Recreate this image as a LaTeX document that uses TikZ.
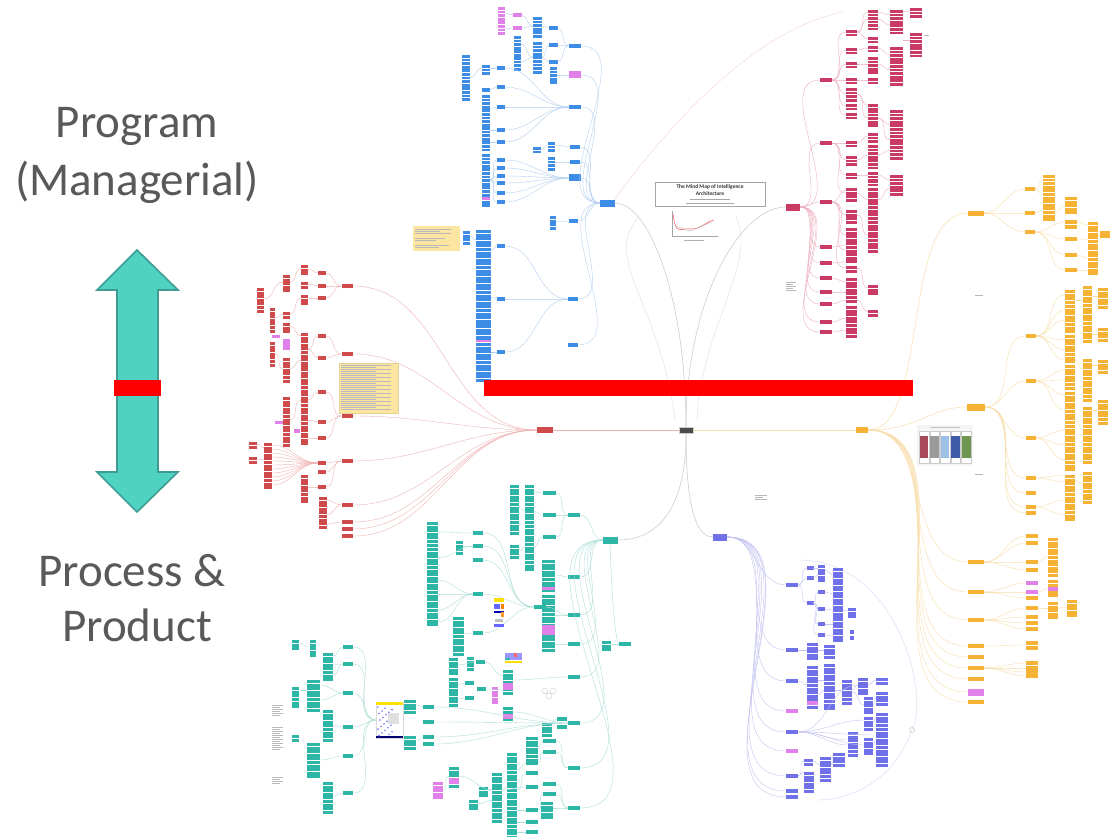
\documentclass[tikz,border=0pt]{standalone}
\usepackage{fontspec}
\setmainfont{Carlito}
\definecolor{bl}{HTML}{3D8DE6}
\definecolor{blL}{HTML}{B4CFF0}
\definecolor{cr}{HTML}{C93A64}
\definecolor{crL}{HTML}{EDB0C0}
\definecolor{rd}{HTML}{CF4B4B}
\definecolor{rdL}{HTML}{F0B4B4}
\definecolor{tl}{HTML}{2DB5A5}
\definecolor{tlL}{HTML}{AEDFD8}
\definecolor{pu}{HTML}{7070E8}
\definecolor{puL}{HTML}{C4C4F2}
\definecolor{og}{HTML}{F5B235}
\definecolor{ogL}{HTML}{F9DDA8}
\definecolor{pk}{HTML}{E080E8}
\definecolor{txt}{HTML}{595959}
\definecolor{arrF}{HTML}{50D2C3}
\definecolor{arrD}{HTML}{3E9C92}
\definecolor{note}{HTML}{FBE5A0}
\definecolor{panA}{HTML}{A84A5A}
\definecolor{panB}{HTML}{9A9A9A}
\definecolor{panC}{HTML}{9CC0E6}
\definecolor{panD}{HTML}{3E5AA8}
\definecolor{panE}{HTML}{6E9650}
% stack of small boxes: x, y top, y bottom, width, colour
\newcommand\stk[5]{%
  \pgfmathtruncatemacro\nn{max(0,round((#3-#2)/3.6))}%
  \foreach \k in {0,...,\nn}{\fill[#5] (#1,{#2+3.6*\k}) rectangle ++(#4,2.9);}}
% single box centred on x,y with width
\newcommand\bx[4]{\fill[#4] ({#1-#3/2},{#2-2}) rectangle ++(#3,4);}
% thin curved link, left end to right end
\newcommand\lk[5]{\draw[#5,line width=0.4pt] (#1,#2) to[out=0,in=180] (#3,#4);}
% a few lines of tiny grey text
\newcommand\tx[4]{\foreach \k in {1,...,#4}{\fill[gray!55] (#1,{#2+2*\k}) rectangle ++({#3*(0.7+0.3*mod(\k,2))},0.7);}}
\tikzset{
  hub/.style={rectangle,inner sep=0pt,minimum height=6pt},
  big/.style={text=txt,font=\fontsize{47}{50}\selectfont,anchor=base}
}
\begin{document}
\begin{tikzpicture}[x=1pt,y=-1pt]
\useasboundingbox (0,0) rectangle (1110,837);
\fill[white] (0,0) rectangle (1110,837);

% ---------- side labels and the two-way arrow ----------
\node[big] (prog) at (137,138) {Program};
\node[big] (mgr) at (137,195) {(Managerial)};
\node[big] (proc) at (132,586) {Process \&};
\node[big] (prod) at (137,641) {Product};
\fill[arrF,draw=arrD,line width=1.6pt,line join=miter]
  (137,250) -- (178,290) -- (158,290) -- (158,472) -- (178,472) -- (137,512)
  -- (97,472) -- (117,472) -- (117,290) -- (97,290) -- cycle;
\fill[red] (114,380) rectangle (161,396);

% ---------- central hubs ----------
\node[hub,fill=gray!60!black,minimum width=14pt,draw=gray!40] (cen) at (686,430) {};
\node[hub,fill=bl,minimum width=15pt,minimum height=7pt] (bh) at (607,203) {};
\node[hub,fill=cr,minimum width=14pt,minimum height=7pt] (ch) at (793,207) {};
\node[hub,fill=rd,minimum width=16pt] (rh) at (545,430) {};
\node[hub,fill=tl,minimum width=15pt,minimum height=7pt] (th) at (610,540) {};
\node[hub,fill=pu,minimum width=14pt,minimum height=7pt] (ph) at (720,537) {};
\node[hub,fill=og,minimum width=12pt] (oh) at (862,430) {};
\node[hub,fill=og,minimum width=16pt,minimum height=5pt] (oa) at (976,213) {};
\node[hub,fill=og,minimum width=18pt,minimum height=7pt] (ob) at (976,407) {};

\draw[gray!45,line width=0.5pt] (cen.north) .. controls (686,300) and (650,203) .. (bh.east);
\draw[gray!45,line width=0.5pt] (cen.north) .. controls (686,300) and (740,207) .. (ch.west);
\draw[rdL,line width=0.6pt] (cen.west) -- (rh.east);
\draw[ogL,line width=0.6pt] (cen.east) -- (oh.west);
\draw[gray!45,line width=0.5pt] (cen.south) .. controls (686,520) and (650,540) .. (th.east);
\draw[gray!45,line width=0.5pt] (cen.south) .. controls (686,520) and (700,537) .. (ph.west);
\draw[ogL,line width=0.5pt] (oh.east) .. controls (930,430) and (900,213) .. (oa.west);
\draw[ogL,line width=0.5pt] (oh.east) .. controls (920,430) and (930,407) .. (ob.west);
% faint long arcs
\draw[crL!60,line width=0.4pt] (bh.north east) .. controls (680,110) and (760,30) .. (842,12);
\draw[gray!25,line width=0.4pt] (640,215) .. controls (600,260) and (660,300) .. (675,420);
\draw[gray!25,line width=0.4pt] (735,215) .. controls (760,260) and (700,330) .. (697,420);
\draw[puL!70,line width=0.4pt] (798,560) .. controls (900,560) and (930,700) .. (912,730) .. controls (890,790) and (840,800) .. (818,800);

% ---------- title block ----------
\draw[gray!70,fill=white,line width=0.5pt] (655,182) rectangle (765,206);
\node[font=\fontsize{5.5}{6}\selectfont\bfseries,text=black!80,inner sep=0] (ttl) at (710,187) {The Mind Map of Intelligence};
\node[font=\fontsize{5.5}{6}\selectfont\bfseries,text=black!80,inner sep=0] (ttl2) at (710,193.5) {Architecture};
\fill[gray!70] (690,198.5) rectangle (730,199.3);
\fill[gray!70] (686,202.5) rectangle (734,203.3);
\draw[gray!70,line width=0.4pt] (672,211) -- (672,236) -- (718,236);
\draw[red!70,line width=0.5pt] (673,214) .. controls (676,236) and (680,228) .. (690,229) .. controls (700,230) and (705,222) .. (714,220);
\draw[gray!60,line width=0.4pt] (675,226) -- (690,231) -- (712,222);
\fill[gray!60] (684,240) rectangle (704,240.7);

% ---------- blue branch ----------
\stk{498}{7}{20}{7}{pk} \stk{498}{25}{33}{7}{pk}
\bx{517}{15}{9}{pk} \bx{517}{28}{9}{pk}
\stk{533}{17}{35}{9}{bl} \stk{533}{42}{72}{9}{bl}
\stk{514}{36}{53}{7}{bl} \stk{514}{57}{68}{7}{bl}
\bx{553}{28}{9}{bl} \bx{553}{45}{9}{bl} \bx{553}{62}{9}{bl}
\stk{550}{67}{83}{7}{bl}
\bx{575}{46}{12}{bl} \fill[pk] (569,71) rectangle (581,78);
\stk{462}{55}{100}{8}{bl}
\stk{482}{65}{72}{8}{bl} \bx{486}{90}{8}{bl}
\stk{482}{95}{123}{8}{bl} \stk{482}{127}{148}{8}{bl} \stk{482}{154}{205}{8}{bl}
\fill[pk] (482,197) rectangle (490,200);
\foreach \y in {68,87,107,130,142,160,168,176,183,193,202} {\bx{501}{\y}{8}{bl}}
\bx{575}{107}{12}{bl} \bx{575}{147}{10}{bl} \bx{575}{162}{10}{bl}
\fill[bl] (569,174) rectangle (581,181);
\stk{548}{142}{150}{7}{bl} \stk{548}{157}{168}{7}{bl} \stk{533}{147}{152}{8}{bl}
\stk{550}{216}{228}{6}{bl} \bx{573}{221}{9}{bl}
\stk{476}{230}{270}{15}{bl} \stk{476}{273}{322}{15}{bl} \stk{476}{325}{380}{15}{bl}
\fill[pk] (476,340) rectangle (491,342);
\stk{463}{231}{242}{7}{bl}
\bx{501}{246}{8}{bl} \bx{501}{299}{8}{bl} \bx{501}{352}{8}{bl}
\bx{573}{299}{10}{bl} \bx{573}{345}{10}{bl}
\foreach \a/\b/\c/\d in {505/13/513/15,505/29/513/28,521/15/533/26,521/28/533/26,521/44/533/57,521/62/533/57,
  542/26/549/28,542/57/549/45,542/57/549/62,557/28/569/46,557/45/569/46,557/62/569/46,557/75/569/75,
  470/78/482/68,490/68/497/68,490/90/497/87,490/109/497/107,490/130/497/130,490/142/497/142,
  505/68/569/107,505/87/569/107,505/107/569/107,505/130/569/107,505/142/569/107,
  490/180/497/160,490/180/497/168,490/180/497/176,490/180/497/183,490/180/497/193,490/180/497/202,
  505/160/569/178,505/168/569/178,505/176/569/178,505/183/569/178,505/193/569/178,505/202/569/178,
  541/150/548/145,555/145/570/147,555/162/570/162,
  491/250/497/246,491/297/497/299,491/352/497/352,505/246/568/299,505/299/568/299,505/352/568/299,
  556/222/568/221,470/236/476/240,
  581/46/600/203,581/75/600/203,581/107/600/203,580/147/600/203,580/162/600/203,581/178/600/203,
  578/221/600/203,578/299/600/203,578/345/600/203}
  {\lk{\a}{\b}{\c}{\d}{blL}}
% note beside the blue branch
\fill[note] (413,226) rectangle (460,251);
\tx{415}{227}{36}{3} \tx{415}{236}{30}{2} \tx{415}{243}{34}{2}

% ---------- crimson branch ----------
\foreach \y in {80,143,202,247,263,278,292,304,322,332} {\bx{826}{\y}{12}{cr} \lk{800}{207}{820}{\y}{crL}}
\foreach \a/\b in {30/34,48/52,62/66,78/82,88/100,104/108,113/117,141/145,156/163,173/177,188/198,210/220,228/262,266/270,278/300,306/334}
  {\stk{846}{\a}{\b}{11}{cr}}
\foreach \a/\b in {10/14,17/21,24/28,37/41,46/50,57/72,78/82,104/108,110/125,133/140,145/168,172/178,180/185,188/215,221/250,285/292,310/314}
  {\stk{868}{\a}{\b}{10}{cr}}
\foreach \a/\b in {10/33,47/83,110/157,175/193} {\stk{890}{\a}{\b}{13}{cr}}
\stk{910}{8}{15}{12}{cr} \stk{910}{33}{53}{12}{cr}
\foreach \a/\b/\c/\d in {832/80/846/32,832/80/846/50,832/80/846/64,832/80/846/80,832/80/846/94,832/80/846/106,832/80/846/115,
  832/143/846/143,832/143/846/160,832/143/846/175,832/143/846/193,
  832/202/846/190,832/202/846/215,832/202/846/235,832/202/846/250,832/202/846/268,
  832/247/846/245,832/263/846/262,832/278/846/282,832/292/846/292,832/304/846/300,832/322/846/318,832/332/846/330,
  857/32/868/12,857/32/868/19,857/32/868/39,857/50/868/48,857/64/868/64,857/80/868/80,857/94/868/106,857/94/868/118,
  857/143/868/136,857/160/868/155,857/175/868/175,857/193/868/200,857/215/868/235,857/268/868/288,857/300/868/312,
  878/12/890/15,878/19/890/25,878/48/890/55,878/64/890/70,878/118/890/125,878/118/890/140,878/155/890/150,
  878/175/890/180,878/200/890/188,903/12/910/11,903/40/910/40}
  {\lk{\a}{\b}{\c}{\d}{crL}}
\tx{924}{33}{5}{1} \tx{786}{280}{10}{5}

% ---------- red branch ----------
\foreach \y in {286,354,416,461,505,522,529,536} {\bx{347}{\y}{11}{rd} \lk{353}{\y}{537}{430}{rdL}}
\foreach \y in {273,286,298,336,358,392,422,438,463,472,487} {\bx{322}{\y}{8}{rd}}
\foreach \a/\b in {265/273,282/286,295/302,333/365,368/432,435/442,475/500} {\stk{301}{\a}{\b}{7}{rd}}
\foreach \a/\b in {275/290,312/315,323/330,358/380,397/443} {\stk{283}{\a}{\b}{7}{rd}}
\stk{257}{288}{310}{7}{rd} \stk{270}{308}{328}{5}{rd} \stk{270}{342}{365}{5}{rd}
\stk{249}{442}{447}{8}{rd} \stk{249}{457}{461}{8}{rd} \stk{264}{443}{485}{8}{rd}
\stk{319}{497}{527}{8}{rd}
\fill[pk] (272,335) rectangle (280,338); \fill[pk] (283,339) rectangle (290,350);
\fill[pk] (275,421) rectangle (283,424); \fill[pk] (294,429) rectangle (300,433);
\foreach \a/\b/\c/\d in {326/273/341/286,326/286/341/286,326/298/341/286,326/336/341/354,326/358/341/354,326/392/341/416,
  326/422/341/416,326/438/341/416,326/463/341/461,326/472/341/461,326/487/341/461,327/500/341/505,327/515/341/505,327/524/341/522,
  308/269/318/273,308/284/318/286,308/298/318/298,308/349/318/336,308/349/318/358,308/400/318/392,308/420/318/422,
  308/438/318/438,308/487/318/487,290/282/301/269,290/314/301/298,290/326/301/336,290/369/301/360,290/420/301/400,
  264/299/283/282,275/318/283/314,275/354/283/369,257/444/264/448,257/459/264/460}
  {\lk{\a}{\b}{\c}{\d}{rdL}}
\foreach \y in {445,449,...,485} {\lk{272}{\y}{318}{463}{rdL}}
% note in the red branch
\fill[note,draw=note!80!gray,line width=0.3pt] (339,363) rectangle (398,413);
\tx{341}{363}{50}{23}

% ---------- teal branch ----------
\foreach \y in {515,577,615,644,677,723,768,808} {\bx{574}{\y}{12}{tl} \lk{580}{\y}{603}{540}{tlL}}
\bx{625}{644}{12}{tl} \stk{602}{641}{648}{9}{tl}
\draw[tlL,line width=0.4pt] (th.south) .. controls (612,600) and (615,640) .. (619,644);
\lk{611}{644}{619}{644}{tlL}
\foreach \y in {493,515,537,741,752,784,794} {\bx{549}{\y}{13}{tl}}
\bx{540}{607}{12}{tl}
\stk{542}{560}{590}{13}{tl} \stk{542}{595}{635}{13}{tl} \stk{542}{638}{650}{13}{tl}
\fill[pk] (542,587) rectangle (555,590); \fill[pk] (542,625) rectangle (555,635);
\stk{525}{485}{500}{9}{tl} \stk{525}{503}{520}{9}{tl} \stk{525}{525}{570}{9}{tl}
\stk{510}{485}{532}{9}{tl} \stk{510}{545}{557}{9}{tl}
\stk{427}{522}{543}{11}{tl} \stk{427}{548}{568}{11}{tl} \stk{427}{573}{625}{11}{tl}
\foreach \y in {533,546,560,594,633} {\bx{478}{\y}{10}{tl}}
\stk{453}{617}{652}{11}{tl} \stk{456}{541}{552}{7}{tl}
\stk{449}{658}{673}{9}{tl} \stk{449}{678}{692}{9}{tl} \stk{449}{693}{705}{9}{tl}
\stk{467}{657}{667}{7}{tl}
\foreach \x/\y in {480/662,469/683,481/689,469/698} {\bx{\x}{\y}{9}{tl}}
\stk{492}{687}{700}{6}{pk}
\stk{503}{670}{690}{10}{tl} \fill[pk] (503,683) rectangle (513,690);
\stk{503}{707}{719}{10}{tl} \fill[pk] (503,714) rectangle (513,719);
\foreach \y in {707,722,737,744} {\bx{428}{\y}{11}{tl}}
\stk{404}{700}{710}{12}{tl} \stk{404}{736}{747}{12}{tl}
\foreach \y in {647,664,693,727,756,793} {\bx{348}{\y}{10}{tl} \lk{353}{\y}{376}{720}{tlL}}
\stk{323}{653}{677}{10}{tl} \stk{323}{710}{740}{10}{tl} \stk{323}{782}{810}{10}{tl}
\stk{307}{680}{707}{13}{tl} \stk{307}{743}{776}{13}{tl}
\stk{292}{640}{646}{7}{tl} \stk{292}{687}{693}{7}{tl} \stk{292}{698}{706}{7}{tl} \stk{292}{735}{740}{7}{tl}
\stk{310}{640}{653}{6}{tl}
\stk{433}{782}{798}{10}{pk} \stk{449}{767}{784}{10}{tl} \fill[pk] (449,778) rectangle (459,784);
\stk{469}{800}{808}{9}{tl} \stk{479}{787}{795}{9}{tl}
\stk{492}{773}{820}{10}{tl} \stk{507}{753}{835}{10}{tl}
\foreach \y in {763,773,787,810,822,832} {\bx{532}{\y}{12}{tl}}
\stk{526}{737}{757}{12}{tl} \stk{541}{802}{815}{12}{tl}
\bx{562}{719}{10}{tl} \bx{562}{727}{10}{tl} \stk{542}{723}{732}{10}{tl}
\foreach \a/\b/\c/\d in {556/493/568/515,556/515/568/515,556/537/568/515,534/492/542/493,534/511/542/515,534/547/542/537,
  519/508/525/511,519/551/525/547,556/575/568/577,556/615/568/615,556/644/568/644,546/607/568/615,
  438/532/473/533,438/558/473/546,438/580/473/594,438/594/473/594,438/610/473/594,438/622/473/594,464/634/473/633,463/546/473/546,
  483/533/534/607,483/546/534/607,483/560/534/607,483/594/534/607,483/633/534/607,
  458/665/476/662,458/685/465/683,458/699/465/698,485/662/503/676,486/689/503/690,513/680/568/677,513/712/568/723,
  434/707/568/723,434/722/568/723,434/737/568/723,434/744/568/723,417/705/423/707,417/741/423/737,
  333/656/343/647,333/665/343/664,333/675/343/664,321/685/343/693,321/700/343/693,333/725/343/727,321/760/343/756,333/796/343/793,
  300/643/307/647,300/690/307/690,443/790/449/776,459/776/492/790,478/804/492/800,488/791/492/790,502/790/526/787,
  517/770/526/763,517/790/526/773,517/810/526/810,517/822/526/822,517/832/526/832,538/763/543/752,538/787/543/784,
  538/810/543/794,538/747/543/741,556/741/568/768,556/752/568/768,556/784/568/808,556/794/568/808,553/808/568/808,
  547/727/557/719,567/723/568/723}
  {\lk{\a}{\b}{\c}{\d}{tlL}}
\tx{272}{703}{11}{6} \tx{272}{725}{11}{12} \tx{272}{775}{11}{4}
% small pictures inside the teal branch
\fill[white,draw=gray!30,line width=0.3pt] (376,703) rectangle (403,738);
\fill[yellow!85!orange] (376,702) rectangle (403,705);
\fill[blue!45!black] (376,736) rectangle (403,738);
\foreach \i in {0,...,22} {\fill[blue!55] ({378+mod(\i*7,17)},{707+\i*1.3}) circle (0.9);}
\fill[gray!25] (388,713) rectangle (399,724);
\fill[yellow!80!orange] (494,598) rectangle (504,602);
\fill[blue!60] (494,604) rectangle (500,609); \fill[orange] (501,604) rectangle (504,609);
\fill[blue!70!black] (494,611) rectangle (504,613); \fill[orange!80] (501,612) rectangle (504,617);
\fill[gray!50] (495,619) rectangle (503,622); \fill[blue!60] (494,624) rectangle (504,627);
\fill[blue!40] (505,653) rectangle (522,660); \fill[yellow!80!orange] (505,661) rectangle (522,663);
\fill[tl] (505,658) rectangle (510,660); \fill[red!60] (514,653) rectangle (517,657);
\draw[gray!40,line width=0.4pt] (545,691) circle (3) (553,691) circle (3) (549,696) circle (3);

% ---------- purple branch ----------
\foreach \y in {585,650,681,732,776,791,797} {\bx{792}{\y}{12}{pu} \lk{727}{537}{786}{\y}{puL}}
\foreach \y in {711,751} {\bx{792}{\y}{12}{pk} \lk{727}{537}{786}{\y}{puL}}
\foreach \y in {568,578,603} {\bx{810}{\y}{7}{pu}}
\stk{807}{643}{657}{11}{pu} \stk{807}{666}{705}{11}{pu} \fill[pk] (807,701) rectangle (818,705);
\stk{804}{759}{763}{9}{pu} \stk{804}{772}{790}{10}{pu}
\stk{818}{565}{580}{7}{pu}
\foreach \y in {592,609,624,635} {\bx{821}{\y}{7}{pu}}
\stk{824}{645}{657}{11}{pu} \stk{824}{664}{709}{11}{pu} \stk{820}{757}{777}{11}{pu}
\foreach \a/\b in {568/585,588/600,602/617,618/630,632/640} {\stk{833}{\a}{\b}{10}{pu}}
\stk{833}{753}{762}{12}{pu} \stk{842}{680}{703}{10}{pu}
\stk{848}{608}{615}{8}{pu} \bx{852}{632}{4}{pu} \bx{852}{638}{4}{pu}
\stk{848}{732}{753}{10}{pu}
\stk{858}{678}{693}{10}{pu} \stk{864}{697}{713}{9}{pu} \stk{864}{717}{727}{9}{pu} \stk{864}{738}{753}{9}{pu}
\stk{876}{678}{683}{12}{pu} \stk{876}{692}{702}{12}{pu} \stk{876}{713}{723}{12}{pu} \stk{876}{728}{765}{12}{pu}
\draw[gray!50,line width=0.4pt] (912,730) circle (2.5);
\foreach \a/\b/\c/\d in {798/585/807/568,798/585/807/578,798/585/807/603,813/568/818/568,813/578/818/575,813/603/818/592,
  813/603/818/609,813/603/818/624,813/603/818/635,825/570/833/575,825/592/833/594,825/609/833/610,825/624/833/624,
  825/635/833/636,843/610/848/611,798/650/807/650,818/650/824/650,798/681/807/685,818/680/824/680,818/695/824/690,
  835/690/842/690,852/690/858/685,852/692/864/705,798/732/848/740,798/732/848/745,798/732/858/685,798/732/864/720,
  798/732/864/745,798/732/876/735,798/776/804/772,798/776/804/761,813/761/820/765,831/765/833/757,868/685/876/680,
  873/705/876/697,873/722/876/718,873/745/876/740}
  {\lk{\a}{\b}{\c}{\d}{puL}}
\tx{755}{493}{12}{3}

% ---------- orange branch ----------
\foreach \y in {189,213,232} {\bx{1030}{\y}{10}{og}}
\stk{1043}{175}{220}{12}{og} \stk{1065}{197}{213}{12}{og}
\foreach \y in {222,227,239,255,270} {\bx{1071}{\y}{12}{og}}
\stk{1088}{222}{273}{10}{og} \fill[og] (1100,231) rectangle (1110,238);
\foreach \y in {336,381,438,478,493,507,513} {\bx{1031}{\y}{10}{og}}
\foreach \a/\b in {290/300,305/330,335/360,365/385,392/420,425/470,475/518} {\stk{1065}{\a}{\b}{10}{og}}
\foreach \a/\b in {286/340,359/397,407/460,472/500} {\stk{1083}{\a}{\b}{9}{og}}
\foreach \a/\b in {288/305,328/340,360/370,400/423} {\stk{1098}{\a}{\b}{10}{og}}
\foreach \y in {562,592,620,646,657,668,679,702} {\bx{976}{\y}{16}{og} \lk{868}{430}{968}{\y}{ogL}}
\fill[pk] (968,689) rectangle (984,696); \lk{868}{430}{968}{692}{ogL}
\foreach \y in {536,543,562,570,598,608,617,623,629,643,648,663,668,672,676} {\bx{1032}{\y}{12}{og}}
\bx{1032}{583}{12}{pk} \bx{1032}{592}{12}{pk}
\stk{1048}{538}{575}{10}{og} \stk{1048}{580}{595}{10}{og} \fill[pk] (1048,587) rectangle (1058,591);
\stk{1048}{602}{617}{10}{og} \stk{1067}{600}{615}{10}{og}
\foreach \a/\b/\c/\d in {984/213/1025/189,984/213/1025/213,984/213/1025/232,1035/189/1043/180,1035/189/1043/195,
  1035/213/1043/210,1035/232/1065/222,1035/232/1065/239,1035/232/1065/255,1035/232/1065/270,1055/213/1065/205,
  1077/222/1088/225,1077/239/1088/240,1077/255/1088/258,1077/270/1088/270,1098/235/1100/235,
  985/407/1026/336,985/407/1026/381,985/407/1026/438,985/407/1026/478,985/407/1026/493,985/407/1026/507,985/407/1026/513,
  1036/336/1065/295,1036/336/1065/310,1036/336/1065/320,1036/336/1065/340,1036/336/1065/350,1036/336/1065/360,
  1036/381/1065/370,1036/381/1065/380,1036/381/1065/395,1036/381/1065/410,1036/438/1065/430,1036/438/1065/445,
  1036/438/1065/460,1036/478/1065/475,1036/478/1065/482,1036/507/1065/500,1036/507/1065/515,1075/300/1083/300,
  1075/360/1083/370,1075/420/1083/430,1075/480/1083/485,1092/296/1098/296,1092/334/1098/334,1092/365/1098/365,
  1092/410/1098/410,984/562/1026/536,984/562/1026/543,984/562/1026/562,984/562/1026/570,984/592/1026/583,
  984/592/1026/592,984/592/1026/598,984/620/1026/608,984/620/1026/617,984/620/1026/623,984/620/1026/629,
  984/646/1026/645,984/668/1026/663,984/668/1026/668,984/668/1026/672,984/668/1026/676,1038/562/1048/556,
  1038/592/1048/588,1038/608/1048/608,1058/608/1067/607}
  {\lk{\a}{\b}{\c}{\d}{ogL}}
\tx{975}{293}{8}{1} \tx{975}{472}{8}{1}
% small table of coloured panels
\fill[gray!8] (917,425) rectangle (973,466);
\fill[gray!50] (930,427) rectangle (960,428);
\foreach \i/\c in {0/panA,1/panB,2/panC,3/panD,4/panE} {
  \fill[white,draw=gray!40,line width=0.2pt] ({919+\i*10.6},431) rectangle ++(9.6,32);
  \fill[\c] ({919.5+\i*10.6},436) rectangle ++(8.6,22);
}
% the bar across the upper half
\fill[red] (484,380) rectangle (913,396);
\end{tikzpicture}
\end{document}
